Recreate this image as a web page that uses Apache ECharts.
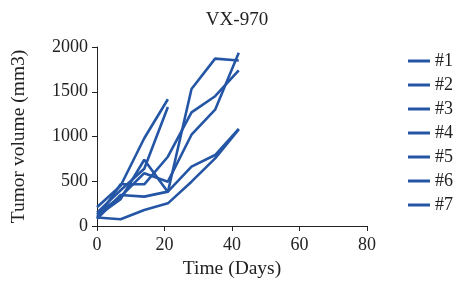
<!DOCTYPE html>
<html lang="en">
<head>
  <meta charset="UTF-8">
  <title>VX-970</title>
  <script src="https://cdn.jsdelivr.net/npm/echarts@6/dist/echarts.min.js"></script>
  <style>
    html, body { margin: 0; padding: 0; background: #fff; }
    #chart { width: 459px; height: 287px; }
  </style>
</head>
<body>
<div id="chart"></div>
<script>
  // measurement days
  const days = [0, 7, 14, 21, 28, 35, 42];
  // tumour volumes (mm3) per mouse
  const m1 = [210, 450, 980, 1416];
  const m2 = [150, 400, 640, 1330];
  const m3 = [110, 300, 740, 380, 1530, 1870, 1850];
  const m4 = [90, 466, 466, 774, 1270, 1450, 1740];
  const m5 = [130, 330, 590, 495, 1020, 1300, 1935];
  const m6 = [80, 346, 328, 384, 663, 793, 1085];
  const m7 = [95, 75, 179, 253, 495, 756, 1080];
  const names = ['#1', '#2', '#3', '#4', '#5', '#6', '#7'];
  const mice = [m1, m2, m3, m4, m5, m6, m7];

  const blue = '#2456a5';
  const font = 'Liberation Serif';
  const ink = '#222';

  const chart = echarts.init(document.getElementById('chart'));
  chart.setOption({
    animation: false,
    title: {
      text: 'VX-970',
      left: 232,
      textAlign: 'center',
      top: 6,
      textStyle: { fontFamily: font, fontSize: 19, fontWeight: 'normal', color: ink }
    },
    legend: {
      orient: 'vertical',
      left: 403,
      top: 47,
      itemWidth: 22,
      itemHeight: 3,
      itemGap: 6,
      icon: 'rect',
      textStyle: { fontFamily: font, fontSize: 18, color: ink, lineHeight: 18 },
      data: names
    },
    grid: { left: 97, right: 92, top: 47, bottom: 61 },
    xAxis: {
      type: 'value',
      min: 0, max: 80, interval: 20,
      name: 'Time (Days)',
      nameLocation: 'middle',
      nameGap: 33,
      nameTextStyle: { fontFamily: font, fontSize: 19.5, color: ink },
      axisLine: { lineStyle: { color: ink, width: 1 } },
      axisTick: { length: 5, lineStyle: { color: ink } },
      axisLabel: { fontFamily: font, fontSize: 18, color: ink, margin: 10 },
      splitLine: { show: false }
    },
    yAxis: {
      type: 'value',
      min: 0, max: 2000, interval: 500,
      name: 'Tumor volume (mm3)',
      nameLocation: 'middle',
      nameGap: 68,
      nameTextStyle: { fontFamily: font, fontSize: 19.5, color: ink },
      axisLine: { show: true, lineStyle: { color: ink, width: 1 } },
      axisTick: { show: true, length: 5, lineStyle: { color: ink } },
      axisLabel: { fontFamily: font, fontSize: 18, color: ink, margin: 9, formatter: v => String(v) },
      splitLine: { show: false }
    },
    series: mice.map((vals, i) => ({
      name: names[i],
      type: 'line',
      symbol: 'none',
      data: vals.map((v, j) => [days[j], v]),
      lineStyle: { color: blue, width: 2.6 },
      itemStyle: { color: blue }
    }))
  });
</script>
</body>
</html>
